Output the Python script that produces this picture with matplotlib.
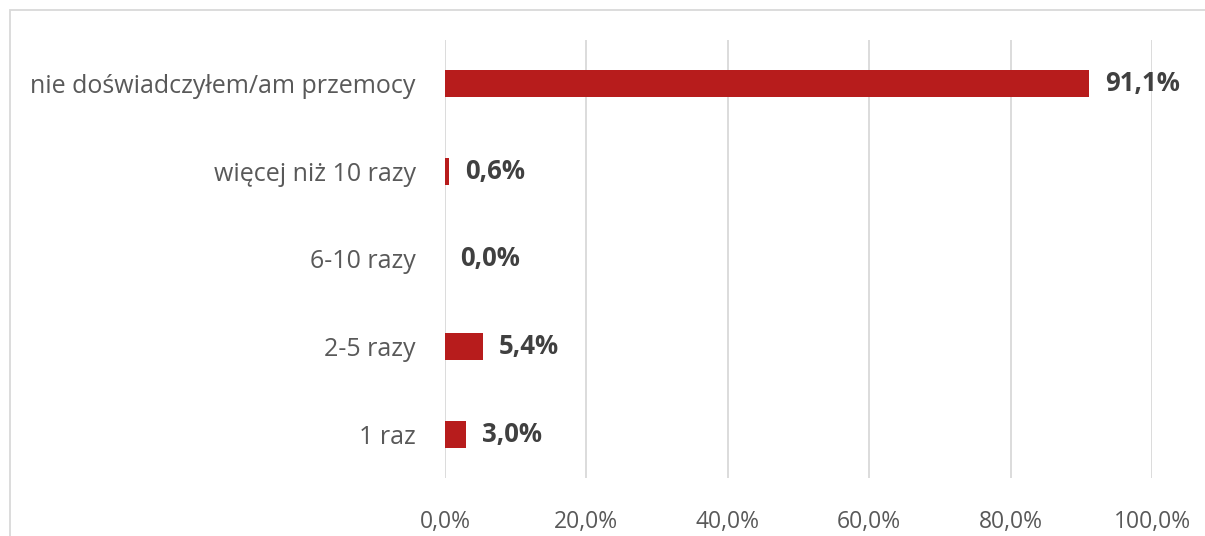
import matplotlib
matplotlib.use("Agg")
import matplotlib.pyplot as plt
from matplotlib.patches import Rectangle

categories = ["1 raz", "2-5 razy", "6-10 razy", "więcej niż 10 razy", "nie doświadczyłem/am przemocy"]
values = [3.0, 5.4, 0.0, 0.6, 91.1]
xticks = [0, 20, 40, 60, 80, 100]

plt.rcParams['font.family'] = ['Open Sans', 'DejaVu Sans']

fig = plt.figure(figsize=(12.05, 5.36), dpi=100)
ax = fig.add_axes([445/1205, 1-478/536, (1152-445)/1205, (478-40)/536])

y = range(len(categories))
ax.barh(y, values, height=0.31, color='#B71C1C', zorder=3)
for i, v in enumerate(values):
    ax.text(v + 2.2, i, ("%.1f%%" % v).replace('.', ','), va='center', ha='left',
            fontsize=18.5, fontweight='bold', color='#404040')

ax.set_xlim(0, 100)
ax.set_ylim(-0.5, len(categories) - 0.5)
ax.set_yticks(list(y))
ax.set_yticklabels(categories, fontsize=18)
ax.set_xticks(xticks)
ax.set_xticklabels([("%.1f%%" % t).replace('.', ',') for t in xticks], fontsize=16.5)
ax.tick_params(axis='both', length=0, labelcolor='#595959')
ax.tick_params(axis='y', pad=21)
ax.tick_params(axis='x', pad=23)
ax.grid(axis='x', color='#d9d9d9', linewidth=1.3, zorder=0)
for s in ax.spines.values():
    s.set_visible(False)

fig.patches.append(Rectangle((10/1205, -0.1), 1.2, 1 - 10/536 + 0.1, transform=fig.transFigure,
                             fill=False, edgecolor='#d9d9d9', linewidth=1.3))

fig.savefig("out.png", dpi=100)
